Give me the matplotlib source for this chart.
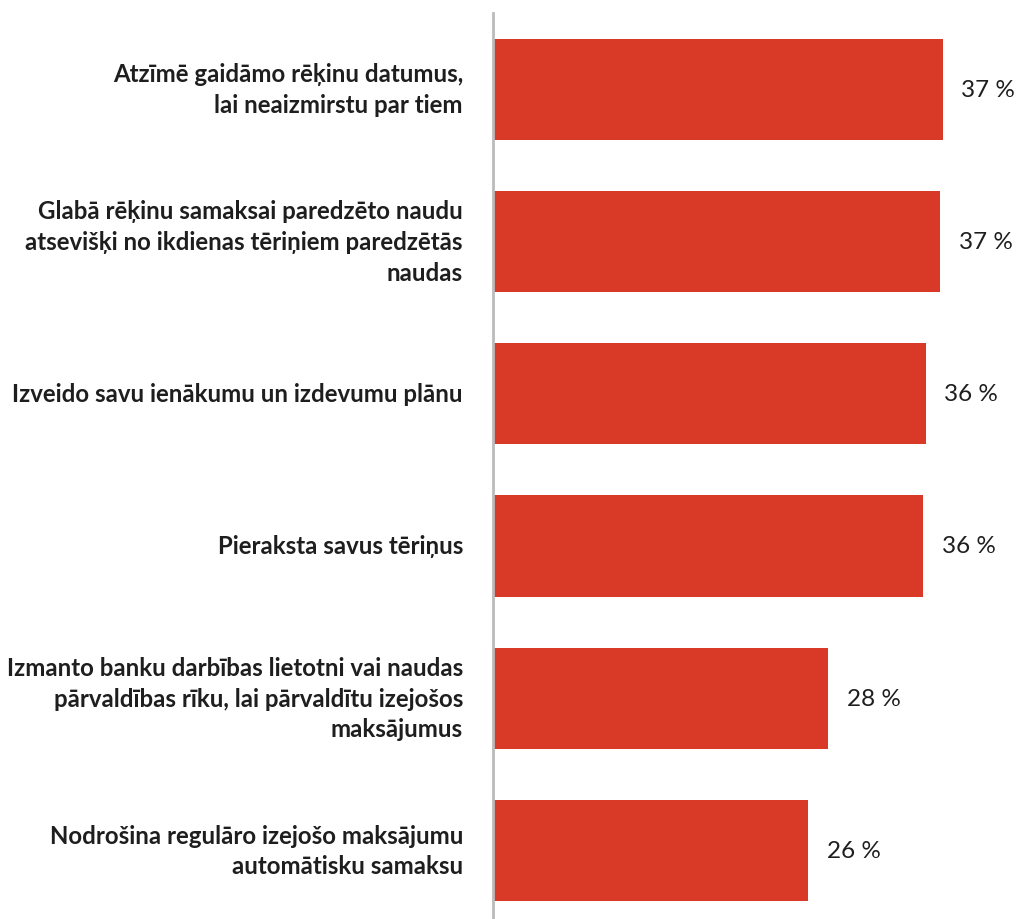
import matplotlib
matplotlib.use("Agg")
import matplotlib.pyplot as plt

labels = [
    "Atzīmē gaidāmo rēķinu datumus,\nlai neaizmirstu par tiem",
    "Glabā rēķinu samaksai paredzēto naudu\natsevišķi no ikdienas tēriņiem paredzētās\nnaudas",
    "Izveido savu ienākumu un izdevumu plānu",
    "Pieraksta savus tēriņus",
    "Izmanto banku darbības lietotni vai naudas\npārvaldības rīku, lai pārvaldītu izejošos\nmaksājumus",
    "Nodrošina regulāro izejošo maksājumu\nautomātisku samaksu",
]
values = [37.4, 37.2, 36.0, 35.8, 27.9, 26.2]

bar_color = "#d93a27"
text_color = "#1e1e1e"

plt.rcParams["font.family"] = ["Lato", "DejaVu Sans"]

fig = plt.figure(figsize=(10.16, 9.2), dpi=100)
ax = fig.add_axes([493 / 1016, 0, 523 / 1016, 1 - 14 / 920])

pos = list(range(len(values)))
ax.barh(pos, values, height=0.665, color=bar_color)
ax.set_xlim(0, 43.5)
ax.set_ylim(5.45, -0.5)

for y, v, lab in zip(pos, values, labels):
    ax.text(v + 1.55, y, f"{v:.0f} %", va="center", ha="left",
            fontsize=17.5, color=text_color)
    ax.text(-2.5, y, lab, va="center", ha="right", fontsize=17.3,
            fontweight="bold", color=text_color, linespacing=1.4)

for side in ["top", "right", "bottom"]:
    ax.spines[side].set_visible(False)
ax.spines["left"].set_color("#bbbbbb")
ax.spines["left"].set_linewidth(2)
ax.set_xticks([])
ax.set_yticks([])

fig.savefig("out.png", dpi=100)
